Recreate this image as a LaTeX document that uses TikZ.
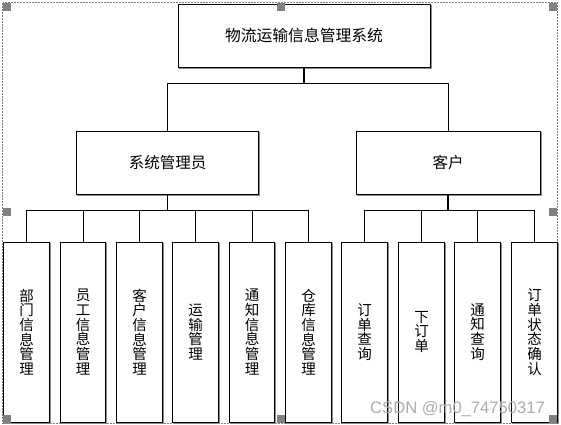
\documentclass[tikz,border=0pt]{standalone}
\usepackage{fontspec}
\newfontfamily\cjk{Noto Sans CJK SC}
\setsansfont{Liberation Sans}
\definecolor{shadowgray}{RGB}{140,140,140}
\definecolor{handlegray}{RGB}{128,128,128}
\usetikzlibrary{positioning,calc}

\begin{document}
\begin{tikzpicture}[x=1pt, y=-1pt,
        orgbox/.style={rectangle, draw=black, line width=1pt, fill=white, inner sep=0pt,
                       align=center, font=\cjk\fontsize{14.5}{14.7}\selectfont,
                       preaction={draw=shadowgray, line width=1pt,
                                  transform canvas={shift={(1pt,-1pt)}}}},
        topbox/.style={orgbox, minimum width=252pt, minimum height=63pt,
                       font=\cjk\fontsize{15.8}{16}\selectfont},
        rolebox/.style={orgbox, minimum width=182pt, minimum height=63pt,
                        font=\cjk\fontsize{15.5}{16}\selectfont},
        leafbox/.style={orgbox, minimum width=45.5pt, minimum height=180pt},
        link/.style={draw=black, line width=1pt},
        trunk/.style={draw=black, line width=1.8pt},
        handle/.style={fill=handlegray, draw=none}
      ]
        \useasboundingbox (0,0) rectangle (561,424);
        % frame of the selection
        \draw[handlegray, line width=0.6pt, dash pattern=on 2pt off 1pt] (2.5,2.5) rectangle (557.5,423);

        \node[topbox] (sys) at (304,35.5) {物流运输信息管理系统};
        \node[rolebox] (admin) at (167.5,162.5) {系统管理员};
        \node[rolebox, minimum width=184pt] (cust) at (448,162.5) {客户};

        \node[leafbox] (dept)    at (26.5,332)  {部\\门\\信\\息\\管\\理};
        \node[leafbox] (staff)   at (83,332)    {员\\工\\信\\息\\管\\理};
        \node[leafbox] (custinf) at (139.5,332) {客\\户\\信\\息\\管\\理};
        \node[leafbox] (trans)   at (195.5,332) {运\\输\\管\\理};
        \node[leafbox] (notice)  at (252,332)   {通\\知\\信\\息\\管\\理};
        \node[leafbox] (store)   at (308.5,332) {仓\\库\\信\\息\\管\\理};
        \node[leafbox] (orderq)  at (364.5,332) {订\\单\\查\\询};
        \node[leafbox] (place)   at (421.5,332) {下\\订\\单};
        \node[leafbox] (noticeq) at (477.5,332) {通\\知\\查\\询};
        \node[leafbox] (confirm) at (534.5,332) {订\\单\\状\\态\\确\\认};

        % tree links
        \draw[trunk] (sys.south) -- ++(0,16) coordinate (j0);
        \draw[link] (j0) -| (admin.north);
        \draw[link] (j0) -| (cust.north);
        \draw[trunk] (admin.south) -- ++(0,16) coordinate (j1);
        \foreach \n in {dept,staff,custinf,trans,notice,store}
          \draw[link] (j1) -| (\n.north);
        \draw[trunk] (cust.south) -- ++(0,16) coordinate (j2);
        \foreach \n in {orderq,place,noticeq,confirm}
          \draw[link] (j2) -| (\n.north);

        % handles
        \foreach \hx/\hy in {3/3, 277/3, 549/3, 3/208, 549/208, 3/415, 277/415, 549/415}
          \fill[handle] (\hx,\hy) rectangle ++(8,8);

        \node[anchor=base west, inner sep=0pt, text=gray!65, font=\sffamily\fontsize{16.6}{16.6}\selectfont]
          (mark) at (370,413) {CSDN @m0\_74750317};
      \end{tikzpicture}
\end{document}
